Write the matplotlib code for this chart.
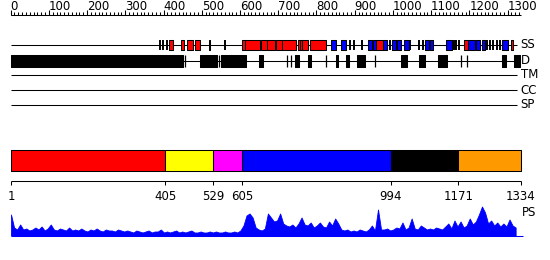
import matplotlib
matplotlib.use('Agg')
import matplotlib.pyplot as plt
import numpy as np

seq_len = 1334

# secondary structure (residue ranges)
ss_helix = [(414, 425), (446, 454), (461, 478), (481, 495), (606, 613), (613, 652),
            (655, 670), (670, 692), (694, 709), (709, 746), (751, 757), (757, 763),
            (763, 779), (783, 825), (955, 975), (1186, 1197), (1308, 1314)]
ss_strand = [(518, 522), (838, 851), (864, 877), (934, 944), (947, 955), (975, 985),
             (998, 1008), (1010, 1021), (1028, 1041), (1084, 1094), (1097, 1106),
             (1140, 1154), (1197, 1214), (1217, 1228), (1232, 1240), (1285, 1302)]
ss_turn = [391, 399, 408, 560, 889, 898, 920, 992, 1045, 1069, 1078, 1160, 1166,
           1172, 1247, 1255, 1263, 1271, 1280]

# disorder
dis_boxes = [(1, 450), (495, 541), (550, 615), (651, 659), (744, 754), (779, 786),
             (851, 857), (877, 884), (905, 928), (1021, 1036), (1068, 1083),
             (1118, 1141), (1285, 1296), (1317, 1332)]
dis_thin = [457, 546, 722, 733, 826, 953, 1179, 1195]

track_names = ['SS', 'D', 'TM', 'CC', 'SP']

# domain boundaries
bounds = [1, 405, 529, 605, 994, 1171, 1334]
dom_colors = ['#ff0000', '#ffff00', '#ff00ff', '#0000ff', '#000000', '#ff9900']

# PS profile, one value per 8 residues
ps = [21, 8, 6, 11, 6, 7, 5, 6, 8, 6, 9, 5, 7, 11, 6, 5, 7,
      6, 5, 8, 5, 6, 5, 7, 5, 4, 6, 5, 7, 5, 4, 6, 5, 5, 4, 6, 5, 4, 5,
      4, 3, 5, 4, 3, 4, 5, 3, 4, 4, 6, 3, 4, 3, 4, 5, 3, 4, 3, 4, 5, 3, 3, 4, 3, 3,
      4, 3, 4, 3, 3, 4, 3, 3, 4, 3,
      5, 10, 20, 22, 18, 8, 6, 5, 7, 22, 18, 14,
      15, 22, 12, 10, 9, 11, 8, 12, 18, 11, 10, 13, 8, 10, 13, 9, 8, 14, 10, 17,
      12, 6, 5, 6, 4, 5, 4, 6, 5, 4, 6, 10,
      5, 26, 6,
      6, 7, 5, 6, 8, 7, 13, 6, 8, 17, 7, 6, 10, 8, 6, 7, 6, 8, 7, 6, 9, 12, 7, 15,
      9, 14, 8, 10, 17,
      11, 14, 21, 29, 23, 12, 15, 10, 13, 9, 12, 9, 16, 10, 8]
ps_pos = np.arange(len(ps)) * 8 + 1

fig = plt.figure(figsize=(5.5, 2.6), dpi=100)
ax = fig.add_axes([0, 0, 1, 1])
ax.set_xlim(-27.8, 1410.9)
ax.set_ylim(260, 0)
ax.axis('off')
lw = 0.75
fs = 8.5

# ruler
ax.hlines(15, 0, seq_len, color='black', lw=lw)
ax.vlines(np.arange(0, seq_len, 10), 12, 15, color='black', lw=lw)
ax.vlines(np.arange(0, 1301, 100), 10, 15, color='black', lw=lw)
for t in range(0, 1301, 100):
    ax.text(t, 10.5, str(t), ha='left', va='baseline', fontsize=fs)

# tracks
track_y = [45, 60.5, 75, 90, 105]
for name, y in zip(track_names, track_y):
    ax.hlines(y, 0, 1325, color='black', lw=lw, zorder=1)
    ax.text(1334, y, name, ha='left', va='center', fontsize=fs)

ax.broken_barh([(a, b - a) for a, b in ss_helix], (40, 10), facecolors='#ff0000',
               edgecolors='black', lw=lw, zorder=2)
ax.broken_barh([(a, b - a) for a, b in ss_strand], (40, 10), facecolors='#0000ff',
               edgecolors='black', lw=lw, zorder=2)
ax.vlines(ss_turn, 40, 50, color='black', lw=1.4, zorder=3)

ax.broken_barh([(a, b - a) for a, b in dis_boxes], (55, 11.5), facecolors='black',
               edgecolors='black', lw=lw, zorder=2)
ax.vlines(dis_thin, 55, 66.5, color='black', lw=0.9, zorder=3)

# domains
for i, c in enumerate(dom_colors):
    ax.broken_barh([(bounds[i], bounds[i + 1] - bounds[i])], (150, 20.5),
                   facecolors=c, edgecolors='black', lw=lw)
ax.hlines(180.5, bounds[0], bounds[-1], color='black', lw=lw)
ax.vlines(bounds, 180.5, 185, color='black', lw=lw)
for b in bounds:
    ax.text(b, 190.5, str(b), ha='center', va='top', fontsize=fs)

# PS profile
ax.fill_between(ps_pos, 235.5, 235.5 - np.array(ps), color='#0000ff', lw=0.6,
                edgecolor='#0000ff')
ax.hlines(235.5, 1, 1340, color='#0000ff', lw=lw)
ax.text(1337, 206, 'PS', ha='left', va='top', fontsize=fs)

fig.savefig('out.png', dpi=100)
